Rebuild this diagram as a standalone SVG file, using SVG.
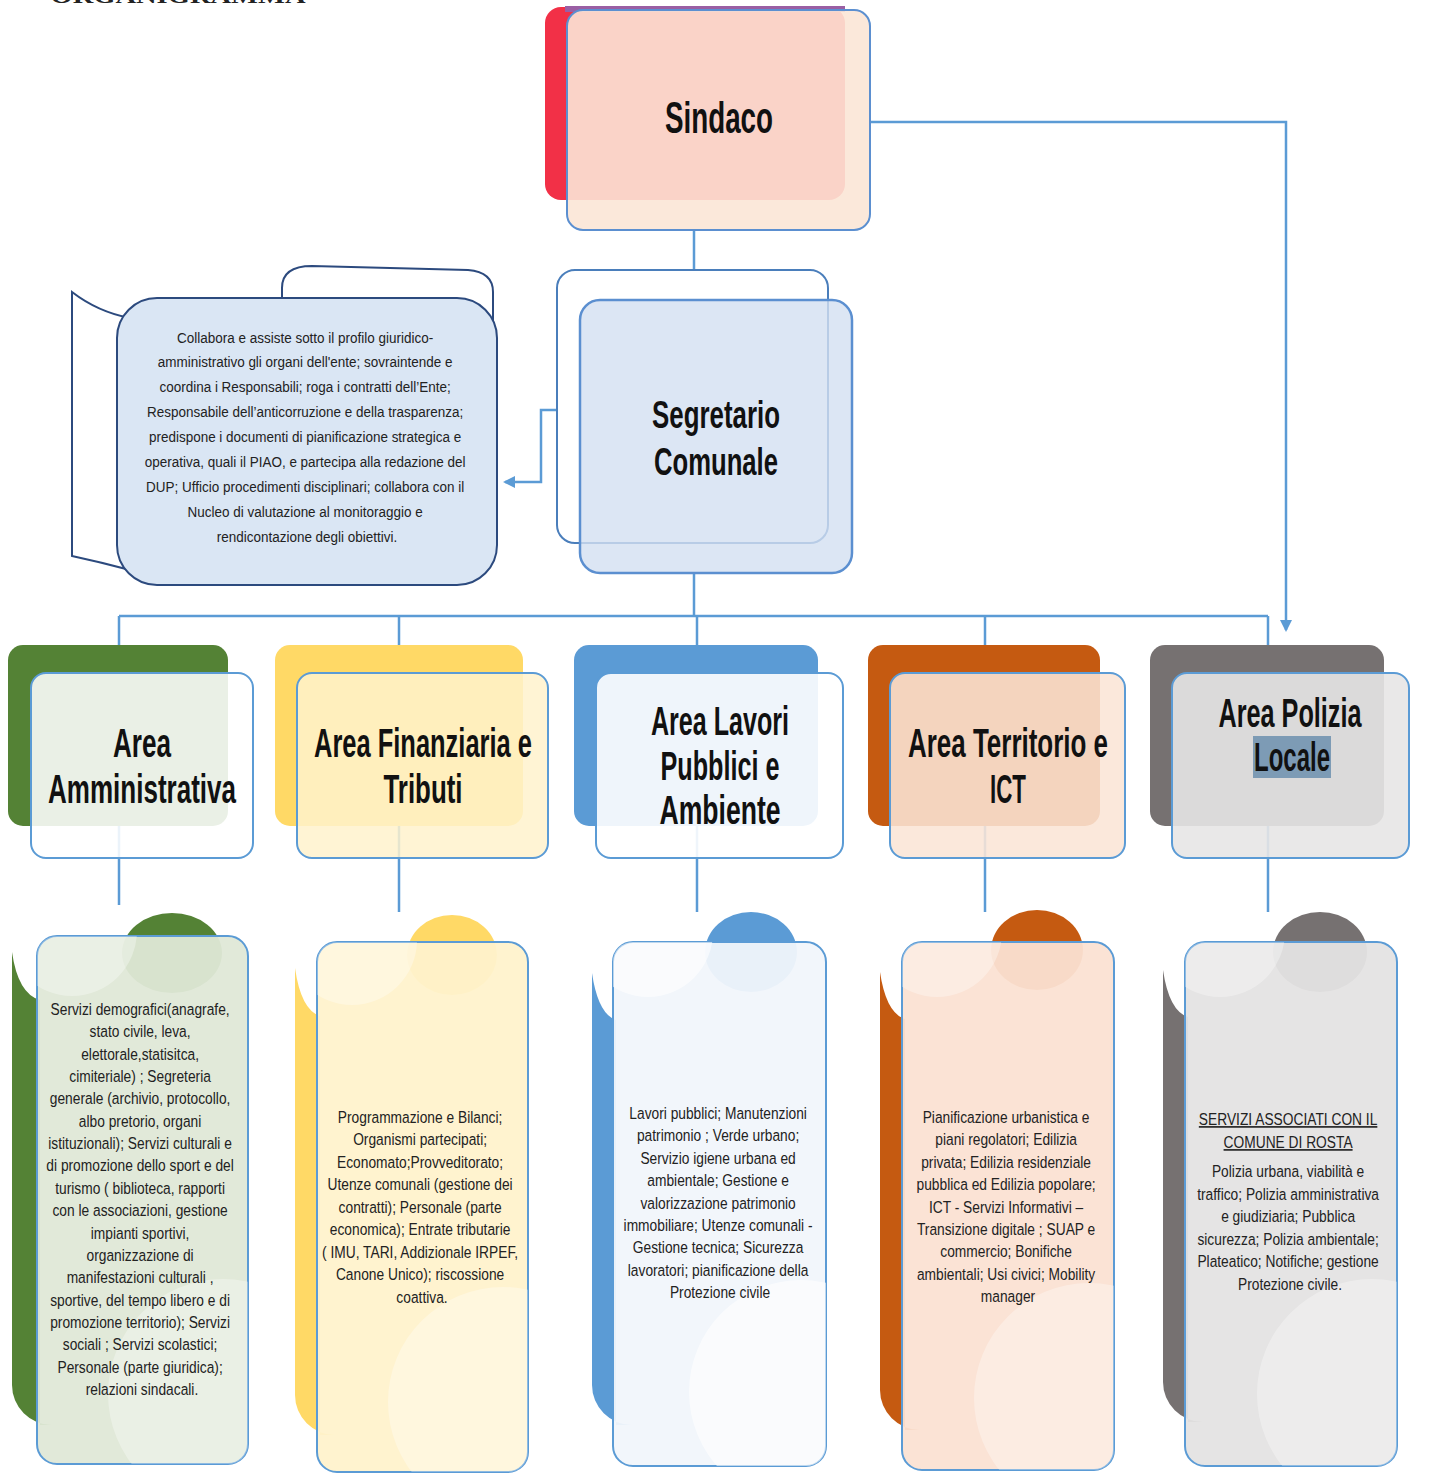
<svg xmlns="http://www.w3.org/2000/svg" width="1440" height="1474" viewBox="0 0 1440 1474">
<style>
.h{font-family:"Liberation Sans Narrow","Liberation Sans",Arial,sans-serif;font-weight:bold;fill:#111;text-anchor:middle}
.b{font-family:"Liberation Sans",Arial,sans-serif;font-size:16.5px;fill:#222;text-anchor:middle}
.d{font-family:"Liberation Sans",Arial,sans-serif;font-size:15.5px;fill:#222;text-anchor:middle}
.c{fill:none;stroke:#5b9bd5;stroke-width:2.5}
.fr{stroke:#5b9bd5;stroke-width:2}
.lt{fill:#fff;opacity:.32}
</style>
<defs>
<marker id="ah" markerWidth="12" markerHeight="12" refX="10" refY="6" orient="auto" markerUnits="userSpaceOnUse">
<path d="M0,0 L12,6 L0,12 Z" fill="#5b9bd5"/>
</marker>
<clipPath id="k1"><rect x="37" y="936" width="211" height="528" rx="20"/></clipPath>
<clipPath id="k2"><rect x="317" y="942" width="211" height="530" rx="20"/></clipPath>
<clipPath id="k3"><rect x="613" y="942" width="213" height="524" rx="20"/></clipPath>
<clipPath id="k4"><rect x="902" y="942" width="212" height="528" rx="20"/></clipPath>
<clipPath id="k5"><rect x="1185" y="942" width="212" height="524" rx="20"/></clipPath>
</defs>
<rect width="1440" height="1474" fill="#fff"/>
<text x="178" y="3" font-family="Liberation Serif,serif" font-weight="bold" font-size="22" text-anchor="middle" textLength="255" lengthAdjust="spacingAndGlyphs" fill="#222">ORGANIGRAMMA</text>

<g id="connectors">
<path class="c" d="M694,230 V272"/>
<path class="c" d="M870,122 H1286 V630" marker-end="url(#ah)"/>
<path class="c" d="M580,410 H541 V482 H505" marker-end="url(#ah)"/>
<path class="c" d="M694,573 V616"/>
<path class="c" d="M119,616 H1268"/>
<path class="c" d="M119,616 V905"/>
<path class="c" d="M399,616 V912"/>
<path class="c" d="M697,616 V912"/>
<path class="c" d="M985,616 V912"/>
<path class="c" d="M1268,616 V912"/>
</g>

<g id="sindaco">
<rect x="545" y="7" width="300" height="193" rx="16" fill="#f23047"/>
<rect x="565" y="6" width="280" height="6" fill="#9a5fa4"/>
<rect x="567" y="10" width="303" height="220" rx="16" fill="#fbe5d6" fill-opacity=".9" stroke="#5b8fd0" stroke-width="2"/>
<text class="h" x="719" y="133" font-size="44" textLength="108" lengthAdjust="spacingAndGlyphs">Sindaco</text>
</g>

<g id="segretario">
<rect x="557" y="270" width="271" height="273" rx="18" fill="#fff" stroke="#4a7ebb" stroke-width="2"/>
<rect x="580" y="300" width="272" height="273" rx="20" fill="#d3e0f1" fill-opacity=".8" stroke="#5b8fd0" stroke-width="2.5"/>
<text class="h" x="716" y="428" font-size="38" textLength="128" lengthAdjust="spacingAndGlyphs">Segretario</text>
<text class="h" x="716" y="475" font-size="38" textLength="124" lengthAdjust="spacingAndGlyphs">Comunale</text>
</g>

<g id="descrizione">
<path d="M282,300 V288 Q282,266 312,266 L468,270 Q493,272 493,292 V360 L300,360 Z" fill="#fff" stroke="#2c4a7e" stroke-width="2"/>
<path d="M72,292 Q98,312 130,318 L130,570 Q100,562 72,556 Z" fill="#fff" stroke="#2c4a7e" stroke-width="2"/>
<rect x="117" y="298" width="380" height="287" rx="40" fill="#dae6f4" stroke="#2c4a7e" stroke-width="2"/>
<text class="d" transform="translate(307 0) scale(0.87 1)">
<tspan x="0" y="343">Collabora e assiste sotto il profilo giuridico-</tspan>
<tspan x="0" y="367">amministrativo gli organi dell'ente; sovraintende e</tspan>
<tspan x="0" y="392">coordina i Responsabili; roga i contratti dell’Ente;</tspan>
<tspan x="0" y="417">Responsabile dell’anticorruzione e della trasparenza;</tspan>
<tspan x="0" y="442">predispone i documenti di pianificazione strategica e</tspan>
<tspan x="0" y="467">operativa, quali il PIAO, e partecipa alla redazione del</tspan>
<tspan x="0" y="492">DUP; Ufficio procedimenti disciplinari; collabora con il</tspan>
<tspan x="0" y="517">Nucleo di valutazione al  monitoraggio e</tspan>
<tspan x="0" y="542">rendicontazione degli obiettivi.</tspan>
</text>
</g>

<g id="area-amministrativa">
<rect x="8" y="645" width="220" height="181" rx="15" fill="#548235"/>
<rect x="31" y="673" width="222" height="185" rx="15" fill="#fff" fill-opacity=".88" class="fr"/>
<text class="h" x="142" y="757" font-size="40" textLength="58" lengthAdjust="spacingAndGlyphs">Area</text>
<text class="h" x="142" y="803" font-size="40" textLength="188" lengthAdjust="spacingAndGlyphs">Amministrativa</text>
</g>

<g id="area-finanziaria">
<rect x="275" y="645" width="248" height="181" rx="15" fill="#ffd966"/>
<rect x="297" y="673" width="251" height="185" rx="15" fill="#fff2cc" fill-opacity=".85" class="fr"/>
<text class="h" x="423" y="757" font-size="40" textLength="218" lengthAdjust="spacingAndGlyphs">Area Finanziaria e</text>
<text class="h" x="423" y="803" font-size="40" textLength="79" lengthAdjust="spacingAndGlyphs">Tributi</text>
</g>

<g id="area-lavori">
<rect x="574" y="645" width="244" height="181" rx="15" fill="#5b9bd5"/>
<rect x="596" y="673" width="247" height="185" rx="15" fill="#fff" fill-opacity=".9" class="fr"/>
<text class="h" x="720" y="735" font-size="40" textLength="138" lengthAdjust="spacingAndGlyphs">Area Lavori</text>
<text class="h" x="720" y="780" font-size="40" textLength="119" lengthAdjust="spacingAndGlyphs">Pubblici e</text>
<text class="h" x="720" y="824" font-size="40" textLength="121" lengthAdjust="spacingAndGlyphs">Ambiente</text>
</g>

<g id="area-territorio">
<rect x="868" y="645" width="232" height="181" rx="15" fill="#c55a11"/>
<rect x="890" y="673" width="235" height="185" rx="15" fill="#fbe5d6" fill-opacity=".88" class="fr"/>
<text class="h" x="1008" y="757" font-size="40" textLength="200" lengthAdjust="spacingAndGlyphs">Area Territorio e</text>
<text class="h" x="1008" y="803" font-size="40" textLength="36" lengthAdjust="spacingAndGlyphs">ICT</text>
</g>

<g id="area-polizia">
<rect x="1150" y="645" width="234" height="181" rx="15" fill="#767171"/>
<rect x="1172" y="673" width="237" height="185" rx="15" fill="#e7e6e6" fill-opacity=".9" class="fr"/>
<rect x="1253" y="736" width="78" height="42" fill="#7d9bb5"/>
<text class="h" x="1290" y="727" font-size="40" textLength="143" lengthAdjust="spacingAndGlyphs">Area Polizia</text>
<text class="h" x="1292" y="771" font-size="40" textLength="76" lengthAdjust="spacingAndGlyphs">Locale</text>
</g>

<g id="servizi-amministrativa">
<ellipse cx="172" cy="953" rx="50" ry="40" fill="#548235"/>
<path d="M12,952 Q18,994 40,1000 L40,1425 L52,1425 A40,40 0 0 1 12,1385 Z" fill="#548235"/>
<rect x="37" y="936" width="211" height="528" rx="20" fill="#dfe8d7" fill-opacity=".95" class="fr"/>
<g clip-path="url(#k1)"><circle class="lt" cx="72" cy="931" r="65"/><circle class="lt" cx="223" cy="1394" r="115"/></g>
<text class="b" transform="translate(142 0) scale(0.835 1)">
<tspan x="0" y="1015">Servizi demografici(anagrafe,</tspan>
<tspan x="0" y="1037">stato civile, leva,</tspan>
<tspan x="0" y="1060">elettorale,statisitca,</tspan>
<tspan x="0" y="1082">cimiteriale) ; Segreteria</tspan>
<tspan x="0" y="1104">generale (archivio, protocollo,</tspan>
<tspan x="0" y="1127">albo pretorio, organi</tspan>
<tspan x="0" y="1149">istituzionali); Servizi culturali e</tspan>
<tspan x="0" y="1171">di promozione dello sport e del</tspan>
<tspan x="0" y="1194">turismo ( biblioteca, rapporti</tspan>
<tspan x="0" y="1216">con le associazioni, gestione</tspan>
<tspan x="0" y="1239">impianti sportivi,</tspan>
<tspan x="0" y="1261">organizzazione di</tspan>
<tspan x="0" y="1283">manifestazioni culturali ,</tspan>
<tspan x="0" y="1306">sportive, del tempo libero e di</tspan>
<tspan x="0" y="1328">promozione territorio); Servizi</tspan>
<tspan x="0" y="1350">sociali ; Servizi scolastici;</tspan>
<tspan x="0" y="1373">Personale (parte giuridica);</tspan>
<tspan x="0" y="1395">relazioni sindacali.</tspan>
</text>
</g>

<g id="servizi-finanziaria">
<ellipse cx="452" cy="955" rx="45" ry="40" fill="#ffd966"/>
<path d="M295,968 Q301,1010 320,1016 L320,1435 L335,1435 A40,40 0 0 1 295,1395 Z" fill="#ffd966"/>
<rect x="317" y="942" width="211" height="530" rx="20" fill="#fff2cc" fill-opacity=".95" class="fr"/>
<g clip-path="url(#k2)"><circle class="lt" cx="352" cy="940" r="65"/><circle class="lt" cx="503" cy="1402" r="115"/></g>
<text class="b" transform="translate(422 0) scale(0.835 1)">
<tspan x="0" y="1123">Programmazione e Bilanci;</tspan>
<tspan x="0" y="1145">Organismi partecipati;</tspan>
<tspan x="0" y="1168">Economato;Provveditorato;</tspan>
<tspan x="0" y="1190">Utenze comunali (gestione dei</tspan>
<tspan x="0" y="1213">contratti); Personale (parte</tspan>
<tspan x="0" y="1235">economica); Entrate tributarie</tspan>
<tspan x="0" y="1258">( IMU, TARI, Addizionale IRPEF,</tspan>
<tspan x="0" y="1280">Canone Unico); riscossione</tspan>
<tspan x="0" y="1303">coattiva.</tspan>
</text>
</g>

<g id="servizi-lavori">
<ellipse cx="751" cy="952" rx="46" ry="40" fill="#5b9bd5"/>
<path d="M592,973 Q598,1014 616,1020 L616,1425 L632,1425 A40,40 0 0 1 592,1385 Z" fill="#5b9bd5"/>
<rect x="613" y="942" width="213" height="524" rx="20" fill="#f1f5fb" fill-opacity=".95" class="fr"/>
<g clip-path="url(#k3)"><circle class="lt" cx="648" cy="932" r="65" style="opacity:.6"/><circle class="lt" cx="801" cy="1392" r="112" style="opacity:.6"/></g>
<text class="b" transform="translate(720 0) scale(0.835 1)">
<tspan x="0" y="1119">Lavori pubblici; Manutenzioni</tspan>
<tspan x="0" y="1141">patrimonio ; Verde urbano;</tspan>
<tspan x="0" y="1164">Servizio igiene urbana ed</tspan>
<tspan x="0" y="1186">ambientale; Gestione e</tspan>
<tspan x="0" y="1209">valorizzazione patrimonio</tspan>
<tspan x="0" y="1231">immobiliare; Utenze comunali -</tspan>
<tspan x="0" y="1253">Gestione tecnica; Sicurezza</tspan>
<tspan x="0" y="1276">lavoratori; pianificazione della</tspan>
<tspan x="0" y="1298">Protezione civile</tspan>
</text>
</g>

<g id="servizi-territorio">
<ellipse cx="1037" cy="950" rx="46" ry="40" fill="#c55a11"/>
<path d="M880,972 Q886,1013 905,1019 L905,1430 L920,1430 A40,40 0 0 1 880,1390 Z" fill="#c55a11"/>
<rect x="902" y="942" width="212" height="528" rx="20" fill="#fbe2d3" fill-opacity=".95" class="fr"/>
<g clip-path="url(#k4)"><circle class="lt" cx="937" cy="932" r="65"/><circle class="lt" cx="1089" cy="1398" r="115"/></g>
<text class="b" transform="translate(1008 0) scale(0.835 1)">
<tspan x="0" y="1123">Pianificazione urbanistica e</tspan>
<tspan x="0" y="1145">piani regolatori; Edilizia</tspan>
<tspan x="0" y="1168">privata; Edilizia residenziale</tspan>
<tspan x="0" y="1190">pubblica ed Edilizia popolare;</tspan>
<tspan x="0" y="1213">ICT - Servizi Informativi –</tspan>
<tspan x="0" y="1235">Transizione digitale ; SUAP e</tspan>
<tspan x="0" y="1257">commercio; Bonifiche</tspan>
<tspan x="0" y="1280">ambientali; Usi civici; Mobility</tspan>
<tspan x="0" y="1302">manager</tspan>
</text>
</g>

<g id="servizi-polizia">
<ellipse cx="1320" cy="952" rx="47" ry="40" fill="#767171"/>
<path d="M1163,970 Q1169,1011 1188,1017 L1188,1422 L1203,1422 A40,40 0 0 1 1163,1382 Z" fill="#767171"/>
<rect x="1185" y="942" width="212" height="524" rx="20" fill="#e4e3e3" fill-opacity=".95" class="fr"/>
<g clip-path="url(#k5)"><circle class="lt" cx="1220" cy="932" r="65"/><circle class="lt" cx="1372" cy="1394" r="115"/></g>
<text class="b" transform="translate(1290 0) scale(0.835 1)">
<tspan x="0" y="1125" text-decoration="underline">SERVIZI ASSOCIATI CON IL</tspan>
<tspan x="0" y="1148" text-decoration="underline">COMUNE DI ROSTA</tspan>
<tspan x="0" y="1177">Polizia urbana, viabilità e</tspan>
<tspan x="0" y="1200">traffico; Polizia amministrativa</tspan>
<tspan x="0" y="1222">e giudiziaria; Pubblica</tspan>
<tspan x="0" y="1245">sicurezza; Polizia ambientale;</tspan>
<tspan x="0" y="1267">Plateatico; Notifiche; gestione</tspan>
<tspan x="0" y="1290">Protezione civile.</tspan>
</text>
</g>
</svg>
